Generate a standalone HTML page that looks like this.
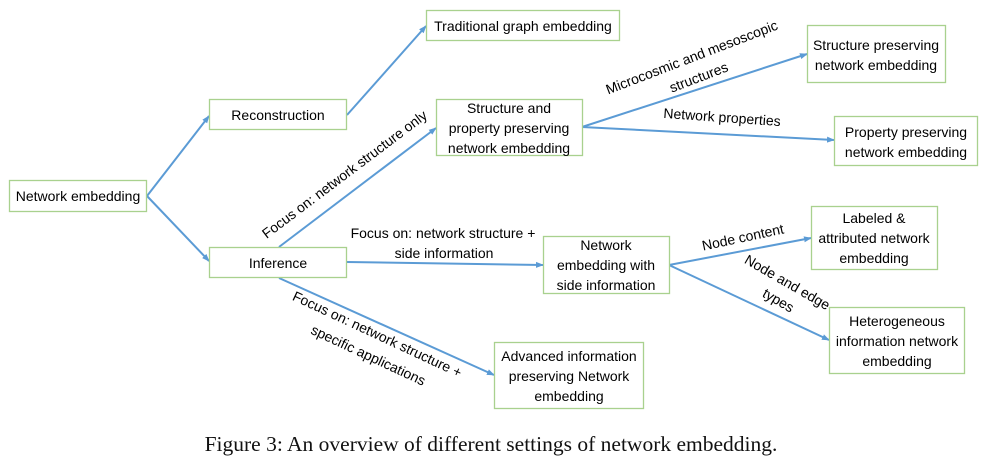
<!DOCTYPE html>
<html><head><meta charset="utf-8"><style>
html,body{margin:0;padding:0;background:#fff;}
svg{display:block;}
text{font-family:"Liberation Sans",sans-serif;font-size:14px;fill:#000;}
.b{fill:#fff;stroke:#a9d18e;stroke-width:1.3;}
.l{stroke:#5b9bd5;stroke-width:2;fill:none;marker-end:url(#a);}
.cap{font-family:"Liberation Serif",serif;font-size:21.5px;fill:#111;}
</style></head><body>
<svg width="985" height="462" viewBox="0 0 985 462" xmlns="http://www.w3.org/2000/svg">
<defs><marker id="a" markerWidth="8" markerHeight="8" refX="7" refY="4" orient="auto" markerUnits="userSpaceOnUse"><path d="M0,1 L8,4 L0,7 z" fill="#5b9bd5"/></marker></defs>
<line class="l" x1="147" y1="196" x2="209" y2="116"/>
<line class="l" x1="147" y1="196" x2="209" y2="261"/>
<line class="l" x1="347" y1="115" x2="426" y2="26"/>
<line class="l" x1="279" y1="247" x2="436" y2="128"/>
<line class="l" x1="347" y1="262" x2="543" y2="265"/>
<line class="l" x1="279" y1="278" x2="494" y2="375"/>
<line class="l" x1="582" y1="127" x2="807" y2="54"/>
<line class="l" x1="582" y1="127" x2="834" y2="140"/>
<line class="l" x1="669" y1="265" x2="811" y2="238"/>
<line class="l" x1="669" y1="265" x2="829" y2="340"/>
<rect class="b" x="9.5" y="180.5" width="137" height="31"/>
<rect class="b" x="209.5" y="99.5" width="137" height="30"/>
<rect class="b" x="209.5" y="247.5" width="137" height="30"/>
<rect class="b" x="426.5" y="10.5" width="193" height="30"/>
<rect class="b" x="436.5" y="99.5" width="146" height="56"/>
<rect class="b" x="807.5" y="25.5" width="138" height="57"/>
<rect class="b" x="834.5" y="116.5" width="143" height="49"/>
<rect class="b" x="543.5" y="236.5" width="126" height="57"/>
<rect class="b" x="811.5" y="206.5" width="126" height="63"/>
<rect class="b" x="829.5" y="307.5" width="135" height="66"/>
<rect class="b" x="494.5" y="342.5" width="149" height="66"/>
<g text-anchor="middle">
<text x="78" y="201">Network embedding</text>
<text x="278" y="120">Reconstruction</text>
<text x="278" y="268">Inference</text>
<text x="523" y="31">Traditional graph embedding</text>
<text x="509" y="113">Structure and</text>
<text x="509" y="133">property preserving</text>
<text x="509" y="153">network embedding</text>
<text x="876" y="50">Structure preserving</text>
<text x="876" y="70">network embedding</text>
<text x="906" y="137">Property preserving</text>
<text x="906" y="157">network embedding</text>
<text x="606" y="250">Network</text>
<text x="606" y="270">embedding with</text>
<text x="606" y="290">side information</text>
<text x="874" y="223">Labeled &amp;</text>
<text x="874" y="243">attributed network</text>
<text x="874" y="263">embedding</text>
<text x="897" y="326">Heterogeneous</text>
<text x="897" y="346">information network</text>
<text x="897" y="366">embedding</text>
<text x="569" y="361">Advanced information</text>
<text x="569" y="381">preserving Network</text>
<text x="569" y="401">embedding</text>
<text x="345" y="179" transform="rotate(-37 345 175)">Focus on: network structure only</text>
<text x="692" y="62" transform="rotate(-21 692 58)">Microcosmic and mesoscopic</text>
<text x="699" y="82" transform="rotate(-21 699 78)">structures</text>
<text x="722" y="122" transform="rotate(4 722 118)">Network properties</text>
<text x="443" y="238">Focus on: network structure +</text>
<text x="444" y="258">side information</text>
<text x="743" y="242" transform="rotate(-12 743 238)">Node content</text>
<text x="787" y="287" transform="rotate(30 787 283)">Node and edge</text>
<text x="778" y="305" transform="rotate(30 778 301)">types</text>
<text x="377" y="339" transform="rotate(25 377 335)">Focus on: network structure +</text>
<text x="368" y="360" transform="rotate(25 368 356)">specific applications</text>
<text class="cap" x="491" y="451">Figure 3: An overview of different settings of network embedding.</text>
</g>
</svg>
</body></html>
